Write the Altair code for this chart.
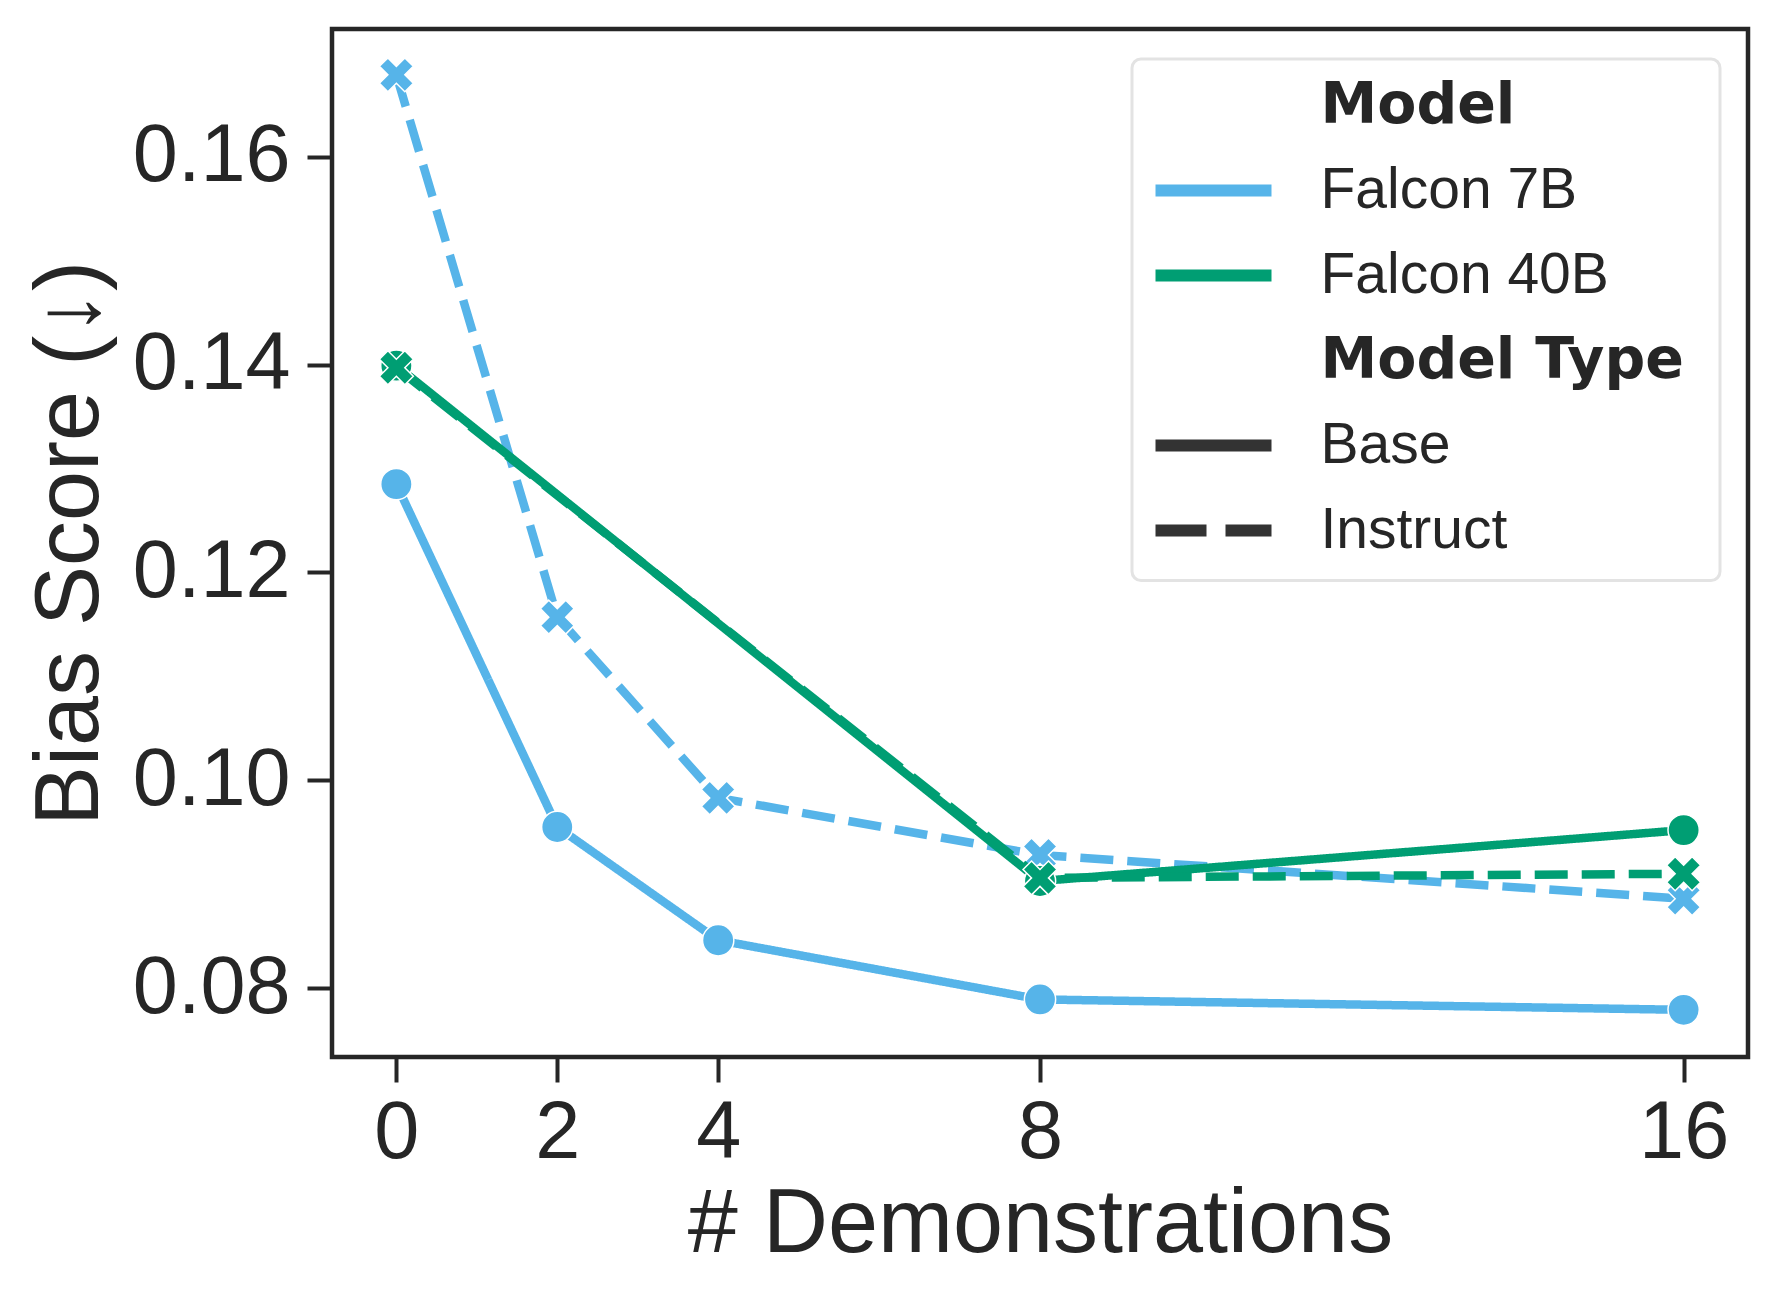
import altair as alt
import pandas as pd

# ---- data ----
demos_7b = [0, 2, 4, 8, 16]
falcon7b_base = [0.1285, 0.0955, 0.0846, 0.0789, 0.0779]
falcon7b_instruct = [0.1679, 0.1157, 0.0983, 0.0928, 0.0886]
demos_40b = [0, 8, 16]
falcon40b_base = [0.1399, 0.0903, 0.0952]
falcon40b_instruct = [0.1397, 0.0906, 0.0910]

models = ["Falcon 7B", "Falcon 40B"]
model_types = ["Base", "Instruct"]
palette = ["#56B4E9", "#009E73"]
x_ticks = [0, 2, 4, 8, 16]
y_ticks = [0.08, 0.10, 0.12, 0.14, 0.16]

# legend layout in the seaborn style: section headers are entries too
legend_entries = ["Model"] + models + ["Model Type"] + model_types
legend_colors = ["rgba(0,0,0,0)"] + palette + ["rgba(0,0,0,0)", "#333333", "#333333"]

series = [
    ("Falcon 7B", "Base", demos_7b, falcon7b_base),
    ("Falcon 7B", "Instruct", demos_7b, falcon7b_instruct),
    ("Falcon 40B", "Base", demos_40b, falcon40b_base),
    ("Falcon 40B", "Instruct", demos_40b, falcon40b_instruct),
]
rows = []
for m, t, xs, ys in series:
    for xv, yv in zip(xs, ys):
        rows.append({"demos": xv, "model": m, "type": t, "score": yv})
df = pd.DataFrame(rows)

TXT = "#262626"
FONT = "Liberation Sans"
X_PATH = ("M-0.5,-1L0,-0.5L0.5,-1L1,-0.5L0.5,0L1,0.5L0.5,1L0,0.5"
          "L-0.5,1L-1,0.5L-0.5,0L-1,-0.5Z")
IS_HEAD = "(datum.value === 'Model' || datum.value === 'Model Type')"

x_enc = alt.X(
    "demos:Q",
    scale=alt.Scale(domain=[-0.8, 16.8], nice=False, zero=False),
    axis=alt.Axis(values=x_ticks, title="# Demonstrations", format="d",
                  labelPadding=11, titlePadding=7),
)
y_enc = alt.Y(
    "score:Q",
    scale=alt.Scale(domain=[0.07336, 0.17231], nice=False, zero=False),
    axis=alt.Axis(values=y_ticks, title="Bias Score (↓)", format=".2f",
                  labelPadding=17, titlePadding=16),
)

color_enc = alt.Color(
    "model:N",
    scale=alt.Scale(domain=legend_entries, range=legend_colors),
    legend=alt.Legend(
        title=None,
        orient="none",
        legendX=817.5,
        legendY=46.5,
        symbolType="stroke",
        symbolSize=13456,
        symbolStrokeWidth=12,
        symbolDash=alt.ExprRef("datum.value === 'Instruct' ? [51, 19] : [1, 0]"),
        clipHeight=60,
        rowPadding=25,
        labelOffset=43,
        labelFont=alt.ExprRef(IS_HEAD + " ? 'DejaVu Sans' : 'Liberation Sans'"),
        labelFontWeight=alt.ExprRef(IS_HEAD + " ? 'bold' : 'normal'"),
        labelFontSize=57,
        labelColor=TXT,
        labelLimit=1000,
        padding=0,
    ),
)
dash_enc = alt.StrokeDash(
    "type:N",
    scale=alt.Scale(domain=model_types, range=[[1, 0], [33, 14]]),
    legend=None,
)

layers = []
for m, t, _, _ in series:
    base = alt.Chart(df).transform_filter(
        (alt.datum.model == m) & (alt.datum.type == t)
    )
    layers.append(
        base.mark_line(strokeWidth=8.5).encode(
            x=x_enc, y=y_enc, color=color_enc, strokeDash=dash_enc
        )
    )
    if t == "Base":
        pt = base.mark_point(shape="circle", filled=True, size=980, opacity=1,
                             stroke="white", strokeWidth=1.5)
    else:
        pt = base.mark_point(shape=X_PATH, filled=True, size=1150, opacity=1,
                             stroke="white", strokeWidth=1.5)
    layers.append(pt.encode(x=x_enc, y=y_enc, color=color_enc))

legend_frame = alt.Chart(alt.Data(values=[{}])).mark_rect(
    fill="white", fillOpacity=0.8, stroke="#e3e3e3", strokeWidth=3,
    cornerRadius=9,
).encode(
    x=alt.value(800), x2=alt.value(1388),
    y=alt.value(30), y2=alt.value(551.5),
)
layers.append(legend_frame)

chart = alt.layer(*layers).properties(
    width=1416,
    height=1028,
    autosize=alt.AutoSizeParams(type="none"),
    padding={"left": 324, "top": 21, "right": 21, "bottom": 244},
    background="white",
).configure_view(
    stroke=TXT, strokeWidth=4.5,
).configure_axis(
    domain=False, grid=False,
    tickSize=25, tickWidth=4, tickColor=TXT,
    labelFont=FONT, labelFontSize=81, labelColor=TXT,
    titleFont=FONT, titleFontSize=90, titleColor=TXT, titleFontWeight="normal",
)

chart.save("out.html", embed_options={"renderer": "svg", "actions": False})
